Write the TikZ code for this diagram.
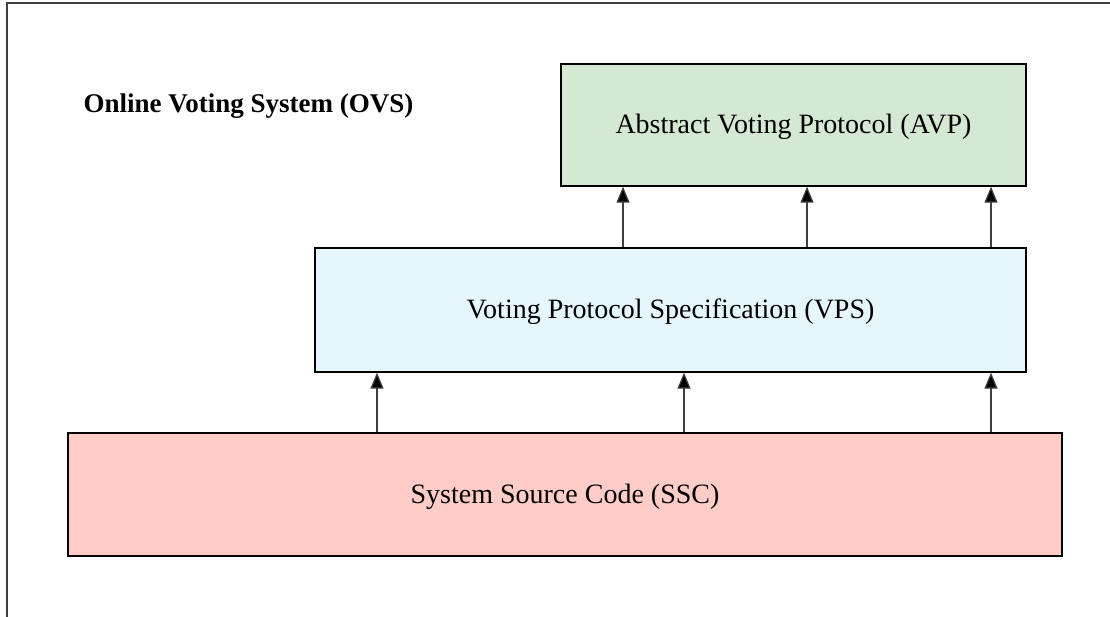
\documentclass[tikz,border=0pt]{standalone}
\usepackage{fontspec}
\setmainfont{Liberation Serif}
\usetikzlibrary{arrows.meta}

\definecolor{avpgreen}{HTML}{D5E8D4}
\definecolor{vpsblue}{HTML}{E6F6FD}
\definecolor{sscred}{HTML}{FFCCC7}

\tikzset{
  layer/.style={draw=black, line width=1.3pt, rectangle, inner sep=0pt,
    font=\fontsize{28}{32}\selectfont, text depth=2pt},
  uparrow/.style={line width=1.2pt, draw=black!75, -{Triangle[length=16pt,width=13pt,fill=black]}},
}

\begin{document}
\begin{tikzpicture}[x=1pt,y=-1pt]
\useasboundingbox (0,0) rectangle (1110,616);
\clip (0,0) rectangle (1110,616);
\draw[line width=1.5pt, draw=black!75] (7,3) rectangle (1130,640); % outer frame

\node[font=\bfseries\fontsize{27}{32}\selectfont, anchor=base west] (ovs) at (80,112) {Online Voting System (OVS)};

% the three layers
\node[layer, fill=avpgreen, minimum width=465pt, minimum height=122pt] (avp) at (793.5,125) {Abstract Voting Protocol (AVP)};
\node[layer, fill=vpsblue, minimum width=711pt, minimum height=124pt] (vps) at (670.5,310) {Voting Protocol Specification (VPS)};
\node[layer, fill=sscred, minimum width=994pt, minimum height=123pt] (ssc) at (565,494.5) {System Source Code (SSC)};

\foreach \x [count=\i] in {623,807,991}{ % VPS up to AVP
\coordinate (up\i) at (\x,0);
\draw[uparrow] (vps.north -| up\i) -- (avp.south -| up\i);}
\foreach \x [count=\i] in {377,684,991}{ % SSC up to VPS
\coordinate (lo\i) at (\x,0);
\draw[uparrow] (ssc.north -| lo\i) -- (vps.south -| lo\i);}
\end{tikzpicture}
\end{document}
